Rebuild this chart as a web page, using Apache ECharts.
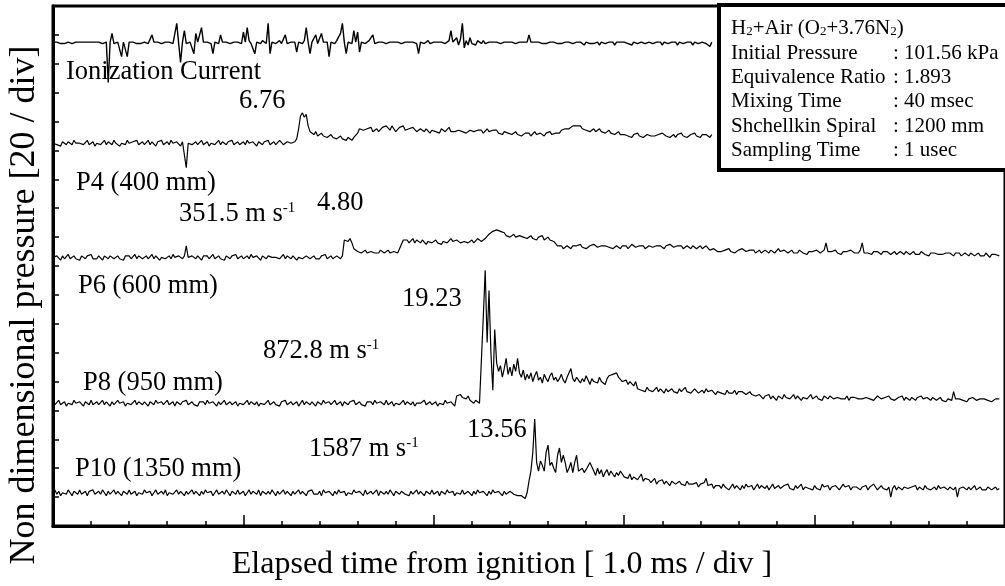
<!DOCTYPE html>
<html>
<head>
<meta charset="utf-8">
<script src="https://cdn.jsdelivr.net/npm/echarts@6/dist/echarts.min.js"></script>
<style>
  html, body { margin: 0; padding: 0; background: #fff; }
  #main { width: 1005px; height: 586px; }
</style>
</head>
<body>
<div id="main"></div>
<script>
// pressure records, every 0.01 ms (values relative to each trace's base level)
var dt = 0.01;
var baseLevels = [335, 265, 186, 85, 23];

var ionCurrent = [
  0,-1,0,0,-1,0,-1,0,0,0,-1,0,0,-1,0,-1,0,0,0,-1,0,-1,0,0,0,
  0,-1,0,0,-28,0,6,-1,0,0,-1,-10,0,0,-10,0,-1,0,0,-1,0,-1,0,0,0,
  -1,0,5,0,-1,0,0,-1,0,0,-1,0,0,-1,0,13,-1,-14,0,8,-1,0,0,-1,-8,
  6,0,-1,10,0,-1,0,0,-1,-8,0,0,-1,5,0,-1,0,1,-1,0,0,-1,0,0,-1,
  7,0,10,1,-1,0,-8,0,0,-1,1,0,-1,13,-8,0,0,-1,0,1,-1,0,5,-1,0,
  0,-1,0,-7,0,0,-1,1,10,0,-8,0,0,5,-1,0,6,0,-1,0,-10,0,0,-1,1,
  0,6,13,0,-8,0,0,-1,8,0,7,-7,0,0,-1,0,1,0,5,-1,0,0,-1,0,0,
  -1,0,0,-1,0,-1,0,0,-1,0,0,-1,0,-1,0,0,-1,-8,0,0,-1,0,1,-1,0,
  0,-1,0,-1,0,0,-1,0,1,8,0,-1,3,-2,2,13,-4,1,-2,3,-1,0,-2,1,0,
  -1,1,-1,0,0,-1,0,-1,0,0,-1,0,0,-1,0,-1,0,0,-1,0,0,-1,0,1,0,
  5,0,-1,0,-1,0,0,-1,0,-1,0,0,-1,0,0,-1,0,-1,0,0,-1,0,0,-1,0,
  0,-1,0,0,-2,0,0,-1,0,-1,0,0,-2,0,0,-1,0,0,-1,0,-2,0,0,0,-1,
  0,0,-1,0,-2,0,0,-1,0,0,0,-1,-2,0,0,-1,0,0,-1,0,-2,0,0,-1,0,
  0,-1,0,-2,0,0,-1,0,0,-1,0,-2,0,0,-1,0,0,0,-1,0,-3,0
];

var p4 = [
  0,1,-1,0,-2,1,0,-1,1,0,-1,2,0,-1,0,1,-1,0,2,-1,0,1,-2,0,1,
  -1,0,2,-1,1,0,-1,2,0,1,-2,0,1,-1,2,0,-1,1,0,2,-1,0,1,-1,0,
  2,-1,1,0,-2,1,0,2,-1,0,1,-1,2,0,-1,1,0,-2,1,0,-17,0,1,-1,0,
  1,-1,0,2,-1,0,1,-2,0,1,-1,0,2,-1,1,0,-1,1,0,2,-1,0,1,-1,0,
  1,-1,2,0,-1,1,0,-2,1,0,-1,1,0,2,-1,0,1,-1,0,2,1,-1,0,1,2,
  0,1,1,3,10,19,21,18,20,12,8,7,6,8,5,6,7,5,6,4,5,6,4,5,3,
  4,5,3,4,2,4,3,2,4,3,7,10,11,9,8,10,9,11,8,9,10,8,9,11,10,
  12,11,9,12,10,8,9,11,10,12,9,8,10,9,11,10,8,9,10,9,8,10,9,7,9,
  10,8,9,7,10,9,8,9,11,8,9,8,7,9,10,8,9,7,8,9,10,8,7,9,8,
  9,7,8,10,8,7,9,8,9,7,8,6,8,9,7,8,6,7,8,6,7,5,6,7,6,
  7,5,6,8,6,5,7,6,5,7,6,8,6,5,7,6,7,9,8,10,9,10,11,12,11,
  12,11,12,10,10,9,10,8,9,10,8,9,10,8,9,7,8,9,7,8,6,7,8,6,5,
  6,7,5,6,4,6,5,7,5,6,4,5,6,7,5,6,5,4,6,5,7,6,5,6,4,
  5,6,4,6,5,7,5,6,4,5,6,5,7,5,6,4,6,5,6,5,4,6
];

var p6 = [
  0,-1,1,0,-2,1,-1,0,2,-1,0,1,-1,0,-2,1,0,-1,1,0,2,-1,0,-1,1,
  0,-2,1,0,-1,1,2,-1,0,1,-1,0,-2,1,0,1,-1,0,2,-1,1,0,-1,0,1,
  -1,0,2,-1,1,0,-2,0,1,-1,0,1,-1,2,0,-1,1,0,-1,1,8,0,-1,1,0,
  -1,1,0,-2,1,0,1,-1,0,2,-1,0,1,-1,0,-2,1,0,-1,1,0,2,-1,0,1,
  -1,0,1,-1,2,0,-1,1,0,-2,1,0,-1,1,2,0,-1,0,1,-1,0,2,-1,1,0,
  -1,1,0,-2,0,1,-1,0,1,2,-1,0,1,-1,0,-1,1,0,2,-1,0,1,-1,0,1,
  0,-1,1,12,13,11,13,10,6,5,4,5,3,4,5,3,4,4,5,3,4,3,5,4,3,
  4,5,3,4,4,5,3,6,9,12,11,12,10,11,13,10,12,11,10,12,11,9,11,12,10,
  11,12,10,11,9,11,12,10,11,13,11,10,12,11,10,9,11,12,10,11,12,10,11,13,12,
  11,12,13,14,16,17,18,17,19,20,18,19,17,15,16,14,15,16,14,13,15,16,14,15,13,
  14,15,13,14,12,14,13,15,12,13,14,12,13,11,12,8,7,8,6,7,8,7,6,8,7,
  8,7,9,7,8,6,7,8,7,9,8,7,6,8,7,8,9,7,8,6,7,8,7,6,8,
  7,8,6,7,9,8,7,6,8,7,8,6,7,8,9,7,6,8,7,8,7,6,8,7,9,
  8,7,6,8,7,8,6,7,8,7,6,8,7,6,7,8,6,7,8,7,5,4,6,5,4,
  5,4,3,5,4,6,4,5,3,4,5,4,6,5,4,3,5,4,5,3,4,5,3,4,5,
  4,3,5,4,3,4,6,4,3,5,4,3,4,5,3,4,3,5,4,3,4,2,4,3,4,
  3,5,4,3,4,5,10,4,3,4,3,5,3,4,2,4,3,4,3,5,4,3,4,3,5,
  10,3,4,3,4,2,4,3,4,3,2,4,3,4,3,2,3,4,2,3,4,3,2,4,3,
  2,3,4,2,3,2,4,3,2,3,1,3,2,3,4,2,3,2,1,3,2,3,2,1,3,
  2,3,1,2,3,2,1,3,2,1,2,3,1,2,1,3,2,0,2,1,2,3,1
];

var p8 = [
  1,-1,0,2,-1,0,1,-2,0,1,-1,2,0,-1,1,0,-2,1,0,-1,2,-1,0,1,-1,
  0,2,-1,1,0,-2,1,-1,0,2,0,-1,1,-2,0,1,-1,0,2,-1,1,0,-1,1,0,
  -2,1,0,-1,2,0,-1,1,-1,0,2,-1,0,1,-2,1,0,-1,1,0,2,-1,0,1,-1,
  0,-2,1,0,1,-1,2,0,-1,1,0,-2,1,-1,0,2,-1,0,1,-1,0,1,-2,0,1,
  -1,0,2,-1,1,0,-1,1,-2,0,1,-1,0,2,-1,0,1,-1,0,-2,1,0,2,-1,0,
  1,-1,0,1,-2,0,2,-1,1,0,-1,1,0,-2,1,0,-1,2,0,-1,1,-1,0,2,-1,
  0,1,-2,1,0,-1,1,0,2,-1,0,1,-1,0,-2,1,0,1,-1,2,0,-1,1,0,-1,
  2,-1,0,1,-2,0,1,-1,0,2,-1,1,0,-1,1,-2,0,1,0,-1,2,-1,0,1,-1,
  0,1,-2,0,1,-1,2,0,-1,1,0,-2,5,4,6,4,5,3,5,2,1,0,2,1,0,
  1,60,92,42,78,35,9,51,28,22,26,18,24,31,20,25,19,27,22,31,21,18,23,16,20,
  17,21,15,19,22,16,18,14,20,17,15,19,21,16,18,15,17,20,16,14,18,19,24,17,15,
  18,16,14,17,15,19,16,13,17,15,16,14,18,15,16,13,17,19,18,20,19,21,18,19,15,
  14,16,13,15,14,12,15,10,11,9,10,8,11,9,10,8,9,11,8,10,9,7,10,8,9,
  10,8,9,7,10,8,9,11,8,9,7,8,10,9,7,8,9,7,10,8,7,9,8,6,8,
  9,7,8,6,9,7,8,7,9,6,8,7,8,9,6,7,8,6,7,5,4,6,5,3,5,
  4,6,3,5,4,2,5,4,3,6,4,5,3,4,6,3,5,4,2,4,5,3,4,6,3,
  4,5,3,4,2,5,4,3,5,4,3,2,4,5,3,4,3,5,2,4,3,4,5,3,4,
  3,2,4,5,3,4,2,3,5,4,3,2,4,3,5,3,4,2,3,4,3,5,2,4,3,
  2,4,3,2,4,3,5,3,2,4,3,2,4,3,2,3,4,2,3,1,3,4,2,8,3,
  2,3,4,2,3,1,3,2,4,3,2,1,3,2,3,4,2,3,1,2,3,2,3
];

var p10 = [
  0,2,-1,1,-2,0,1,-1,2,0,-2,1,0,-1,2,-1,0,1,-2,1,0,2,-1,0,1,
  -1,2,0,-2,1,-1,0,2,-1,1,0,-2,1,0,-1,2,-1,0,1,-2,0,1,-1,2,0,
  -1,1,-2,0,2,-1,0,1,-1,2,-2,0,1,-1,0,2,-1,1,0,-2,1,-1,0,2,-1,
  1,0,-2,1,-1,2,0,-1,1,-2,0,2,-1,0,1,-1,2,0,-2,1,0,-1,2,-1,0,
  1,-2,0,2,-1,1,0,-1,2,-2,1,0,-1,1,-1,2,0,-2,1,-1,0,2,-1,1,0,
  -2,1,-1,0,2,-1,1,0,-2,1,0,2,-1,0,-1,1,-2,2,0,-1,1,0,-2,1,-1,
  2,0,-1,1,-2,0,1,-1,2,0,-1,1,0,-2,2,-1,0,1,-1,0,2,-2,1,0,-1,
  1,-1,2,0,-2,1,0,-1,1,2,-1,0,-2,1,-1,0,2,-1,1,0,-2,1,0,-1,2,
  -1,0,1,-2,1,0,-1,2,0,-1,1,-2,0,1,-1,2,-1,0,1,0,-2,1,-1,2,0,
  -1,1,0,-2,1,-1,2,0,-1,1,0,-2,1,-1,0,1,0,-1,0,-2,-1,-2,-3,-4,0,
  8,15,28,51,21,15,22,19,15,28,33,19,21,17,14,26,31,21,26,21,14,17,21,14,21,
  26,15,16,17,14,16,15,21,20,15,12,17,13,16,11,14,16,12,15,13,11,14,12,15,13,
  11,12,10,13,9,11,12,9,10,13,8,10,11,9,7,8,10,6,8,7,9,6,8,7,5,
  8,9,6,7,8,6,7,5,8,6,7,6,5,7,4,6,5,7,10,5,4,6,3,5,4,
  5,3,6,4,5,2,4,6,3,5,4,2,5,3,6,4,3,5,2,4,6,3,5,4,3,
  5,2,4,6,3,4,5,3,2,5,4,6,3,4,2,5,3,4,6,2,4,5,3,4,2,
  5,3,4,2,6,4,3,5,2,4,3,5,4,2,3,6,4,3,5,2,4,3,4,5,2,
  4,3,5,2,4,3,6,4,2,3,5,3,4,2,4,-3,3,5,2,4,3,2,4,5,3,
  2,4,3,5,2,4,3,2,5,3,4,2,3,4,2,5,3,2,4,3,2,4,3,2,4,
  -3,3,2,4,3,2,4,2,3,5,2,3,4,2,3,2,4,3,2,3,4,2,3
];

var traces = [ionCurrent, p4, p6, p8, p10];

// conditions box
var condNames = ['Initial Pressure', 'Equivalence Ratio', 'Mixing Time', 'Shchellkin Spiral', 'Sampling Time'];
var condValues = [': 101.56 kPa', ': 1.893', ': 40 msec', ': 1200 mm', ': 1 usec'];

var serif = "'Liberation Serif', 'Times New Roman', serif";

function toPoints(vals, base) {
    return vals.map(function (v, i) {
        return [+(i * dt).toFixed(2), base + v];
    });
}

var series = traces.map(function (t, k) {
    return {
        type: 'line',
        data: toPoints(t, baseLevels[k]),
        showSymbol: false,
        symbol: 'none',
        silent: true,
        lineStyle: { color: '#000', width: k === 0 ? 1.4 : 1.2 }
    };
});

function label(txt, x, y) {
    return {
        type: 'text', x: x, y: y, z: 50, silent: true,
        style: { text: txt, font: '26.5px ' + serif, fill: '#000', verticalAlign: 'middle' }
    };
}
function speed(num, x, y) {
    return {
        type: 'text', x: x, y: y, z: 50, silent: true,
        style: {
            text: '{m|' + num + ' m s}{s|-1}',
            fill: '#000', verticalAlign: 'middle',
            rich: {
                m: { fontSize: 26.5, fontFamily: serif, lineHeight: 27, fill: '#000' },
                s: { fontSize: 15, fontFamily: serif, lineHeight: 22, verticalAlign: 'top', fill: '#000' }
            }
        }
    };
}

var graphic = [
    label('Ionization Current', 66, 72.5),
    label('6.76', 239, 101.5),
    label('P4 (400 mm)', 76, 183),
    speed('351.5', 179, 214.5),
    label('4.80', 317, 203),
    label('P6 (600 mm)', 78, 286.5),
    label('19.23', 402, 299.5),
    speed('872.8', 263, 351.5),
    label('P8 (950 mm)', 83, 383),
    speed('1587', 309, 449.5),
    label('13.56', 467, 430.5),
    label('P10 (1350 mm)', 75, 469.5),
    {
        type: 'text', x: 502, y: 565, z: 50, silent: true,
        style: { text: 'Elapsed time from ignition [ 1.0 ms / div ]', font: '32px ' + serif,
                 fill: '#000', align: 'center', verticalAlign: 'middle' }
    },
    {
        type: 'text', x: 25, y: 305, rotation: Math.PI / 2, z: 50, silent: true,
        style: { text: 'Non dimensional pressure [20 / div]', font: '36px ' + serif,
                 fill: '#000', align: 'center', verticalAlign: 'middle' }
    },
    {
        type: 'rect', z: 100, silent: true,
        shape: { x: 719, y: 5, width: 300, height: 165 },
        style: { fill: '#fff', stroke: '#000', lineWidth: 4 }
    },
    {
        type: 'text', x: 731, y: 28, z: 101, silent: true,
        style: {
            text: '{m|H}{b|2}{m|+Air (O}{b|2}{m|+3.76N}{b|2}{m|)}',
            fill: '#000', verticalAlign: 'middle',
            rich: {
                m: { fontSize: 21, fontFamily: serif, lineHeight: 21, fill: '#000' },
                b: { fontSize: 13, fontFamily: serif, lineHeight: 11, verticalAlign: 'bottom', fill: '#000' }
            }
        }
    }
];

condNames.forEach(function (n, k) {
    var y = 53 + k * 24.4;
    graphic.push({
        type: 'text', x: 731, y: y, z: 101, silent: true,
        style: { text: n, font: '21px ' + serif, fill: '#000', verticalAlign: 'middle' }
    });
    graphic.push({
        type: 'text', x: 893, y: y, z: 101, silent: true,
        style: { text: condValues[k], font: '21px ' + serif, fill: '#000', verticalAlign: 'middle' }
    });
});

var chart = echarts.init(document.getElementById('main'));
chart.setOption({
    animation: false,
    backgroundColor: '#fff',
    grid: { left: 53, top: 6, right: -5.5, bottom: 60, show: true, borderColor: '#000', borderWidth: 3 },
    xAxis: {
        type: 'value', min: 0, max: 5, interval: 1,
        axisLine: { show: true, lineStyle: { color: '#000', width: 3 } },
        axisLabel: { show: false },
        splitLine: { show: false },
        axisTick: { inside: true, length: 11, lineStyle: { color: '#000', width: 1.5 } },
        minorTick: { show: true, splitNumber: 5, length: 5, lineStyle: { color: '#000', width: 1.5 } }
    },
    yAxis: {
        type: 'value', min: 0, max: 360, interval: 20,
        axisLine: { show: true, lineStyle: { color: '#000', width: 3 } },
        axisLabel: { show: false },
        splitLine: { show: false },
        axisTick: { inside: true, length: 6, lineStyle: { color: '#000', width: 1.5 } }
    },
    series: series,
    graphic: graphic
});
</script>
</body>
</html>
